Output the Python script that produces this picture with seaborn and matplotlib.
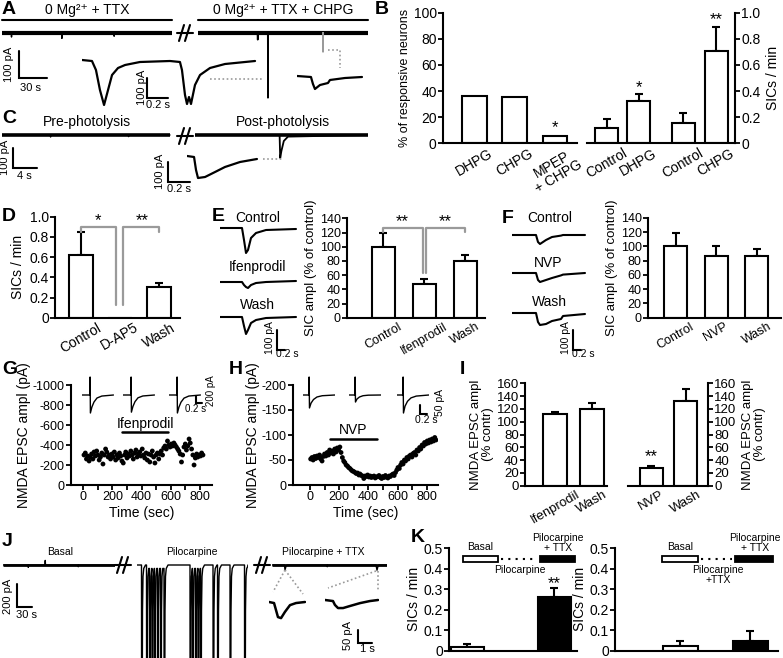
import matplotlib.pyplot as plt
import seaborn as sns
from matplotlib.patches import Rectangle

# ---------------- values ----------------
# B: % of responsive neurons and SIC frequency
b_pct_names = ["DHPG", "CHPG", "MPEP\n+ CHPG"]
b_pct = [36.5, 35.2, 5.8]
b_sic_names = ["Control", "DHPG", "Control", "CHPG"]
b_sic = [0.115, 0.324, 0.153, 0.71]
b_sic_err = [0.069, 0.051, 0.077, 0.183]
# D
d_names = ["Control", "D-AP5", "Wash"]
d_sic = [0.62, 0.0, 0.307]
d_err = [0.23, 0.0, 0.035]
# E
e_names = ["Control", "Ifenprodil", "Wash"]
e_amp = [100, 47.5, 80.3]
e_err = [19, 7, 8]
# F
f_names = ["Control", "NVP", "Wash"]
f_amp = [101, 87, 87]
f_err = [18, 13, 9]
# I
i_ifen_names = ["Ifenprodil", "Wash"]
i_ifen = [111.6, 119.8]
i_ifen_err = [4, 10]
i_nvp_names = ["NVP", "Wash"]
i_nvp = [27, 132]
i_nvp_err = [4, 19]
# K
k_pilo = [0.017, 0.26]
k_pilo_err = [0.016, 0.044]
k_ttx = [0.021, 0.049]
k_ttx_err = [0.028, 0.048]

# G: NMDA EPSC amplitude over time (ifenprodil 265-581 s)
g_time = [5, 14, 22, 31, 40, 48, 57, 66, 74, 83, 92, 100, 109, 118, 127, 135, 144, 153, 161, 170,
          179, 187, 196, 205, 213, 222, 231, 239, 248, 257, 265, 274, 283, 291, 300, 309, 317, 326,
          335, 343, 352, 361, 369, 378, 387, 395, 404, 413, 421, 430, 439, 447, 456, 465, 473, 482,
          491, 499, 508, 517, 525, 534, 543, 551, 560, 569, 577, 586, 595, 603, 612, 621, 629, 638,
          647, 655, 664, 673, 681, 690, 699, 707, 716, 725, 733, 742, 751, 759, 768, 777, 785, 794,
          803, 811, 820]
g_amp = [-300, -320, -260, -290, -240, -280, -310, -260, -330, -290, -340, -300, -250, -280, -320,
         -210, -300, -360, -330, -280, -300, -260, -310, -280, -330, -250, -300, -270, -320, -290,
         -240, -220, -300, -330, -270, -310, -290, -340, -300, -260, -320, -350, -280, -310, -330,
         -290, -360, -300, -270, -320, -250, -310, -230, -300, -340, -280, -220, -300, -320, -260,
         -310, -340, -300, -370, -390, -360, -440, -400, -380, -410, -390, -420, -400, -380, -360,
         -340, -310, -230, -300, -380, -410, -350, -390, -460, -420, -360, -300, -200, -270, -310,
         -280, -300, -290, -320, -300]
g_drug = [265, 581]
# H: NMDA EPSC amplitude over time (NVP 137-457 s)
h_time = [5, 14, 22, 31, 40, 48, 57, 66, 74, 83, 92, 100, 109, 118, 127, 135, 144, 153, 161, 170,
          179, 187, 196, 205, 213, 222, 231, 239, 248, 257, 265, 274, 283, 291, 300, 309, 317, 326,
          335, 343, 352, 361, 369, 378, 387, 395, 404, 413, 421, 430, 439, 447, 456, 465, 473, 482,
          491, 499, 508, 517, 525, 534, 543, 551, 560, 569, 577, 586, 595, 603, 612, 621, 629, 638,
          647, 655, 664, 673, 681, 690, 699, 707, 716, 725, 733, 742, 751, 759, 768, 777, 785, 794,
          803, 811, 820, 829, 837, 846, 855, 863]
h_amp = [-52, -55, -50, -57, -53, -58, -55, -60, -52, -48, -57, -62, -58, -65, -60, -70, -64, -68,
         -62, -72, -66, -74, -70, -76, -65, -55, -48, -45, -40, -38, -35, -33, -30, -28, -27, -25,
         -23, -24, -20, -22, -19, -18, -13, -18, -17, -20, -16, -18, -15, -17, -18, -14, -16, -17,
         -19, -15, -13, -17, -15, -19, -16, -14, -18, -17, -20, -22, -19, -25, -30, -35, -33, -40,
         -45, -42, -50, -48, -55, -52, -58, -60, -56, -63, -65, -60, -70, -68, -75, -72, -80, -78,
         -85, -82, -88, -84, -90, -86, -92, -88, -95, -90]
h_drug = [137, 457]

# ---- current traces (time in s, current in pA) ----
a_ttx_t = [0, 10, 10.2, 10.4, 64, 64.2, 64.4, 120, 120.2, 120.4, 182]
a_ttx_i = [0, 0, -15, 0, 0, -20, 0, 0, -12, 0, 0]
a_chpg_t = [0, 63.7, 64, 64.3, 74.8, 75, 75.2, 182]
a_chpg_i = [0, 0, -25, 0, 0, -240, 0, 0]
a_gray_t = [133.8, 134, 134.2]
a_gray_i = [0, -70, 0]
a_ins1_t = [0, 0.095, 0.133, 0.171, 0.21, 0.248, 0.286, 0.343, 0.41, 0.552, 0.838, 0.933, 0.952,
            0.981, 1.0, 1.019, 1.038, 1.076, 1.124, 1.219, 1.362, 1.648]
a_ins1_i = [0, -5, -50, -150, -225, -150, -75, -40, -25, -10, -5, -10, -50, -175, -220, -185, -220,
            -125, -75, -40, -20, -5]
a_ins2_t = [0, 0.133, 0.152, 0.171, 0.219, 0.295, 0.314, 0.457, 0.619]
a_ins2_i = [0, -5, -40, -65, -45, -35, -20, -10, -5]

c_pre_t = [0, 8, 8.1, 8.2, 21, 21.1, 21.2, 28]
c_pre_i = [0, 0, -10, 0, 0, -8, 0, 0]
c_post_t = [0, 14.1, 14.2, 14.4, 14.8, 15.5, 28.8]
c_post_i = [0, 0, -115, -80, -30, -8, 0]
c_ins_t = [0, 0.064, 0.082, 0.1, 0.164, 0.255, 0.345, 0.482, 0.636]
c_ins_i = [0, -5, -70, -110, -105, -80, -55, -30, -15]

e_tr_t = [0, 0.55, 0.6, 0.65, 0.7, 0.775, 0.9, 1.15, 1.9]
e_ctrl_i = [0, 0, -60, -125, -110, -50, -25, -10, -5]
e_ifen_i = [0, 0, -15, -25, -30, -15, -5, 0, 5]
e_wash_i = [0, 0, -45, -85, -65, -30, -15, -5, 0]
f_tr_t = [0, 0.6, 0.65, 0.7, 0.85, 1.0, 1.225, 1.275, 1.825]
f_ctrl_i = [0, 0, -35, -45, -25, -10, -3, 0, 0]
f_nvp_i = [0, 0, -35, -45, -35, -25, -12, -8, 0]
f_wash_i = [0, 0, -45, -60, -55, -40, -30, -15, -5]

g_ep_t = [0, 0.26, 0.27, 0.28, 0.33, 0.4, 0.5, 0.66, 1.05]
g_ep1 = [0, 0, 514, -514, -343, -200, -86, -30, 0]
g_ep2 = [0, 0, 514, -490, -330, -190, -80, -28, 0]
g_ep3 = [0, 0, 514, -514, -350, -205, -90, -30, 0]
h_ep_t = [0, 0.17, 0.175, 0.185, 0.23, 0.3, 0.4, 0.55, 0.91]
h_ep1 = [0, 0, 100, -72, -45, -25, -11, -4, 0]
h_ep2 = [0, 0, 100, -39, -22, -11, -4, -1, 0]
h_ep3 = [0, 0, 100, -100, -62, -35, -16, -6, 0]

j_basal_t = [0, 50, 50.5, 51, 84, 84.5, 85, 150, 150.5, 151, 224]
j_basal_i = [0, 0, -20, 0, 0, 40, 0, 0, -15, 0, 0]
j_event_times = [9, 19, 25, 30, 35, 41, 47, 54, 106, 111, 117, 122, 127, 152, 161, 186, 215]
j_event_dt = [0.3, 1.2, 2.0, 3.0, 4.5, 8.0]
j_event_i = [-1800, -1800, -400, -100, -30, 0]
j_ttx_t = [0, 25, 26, 28, 30, 110, 110.5, 111, 208, 210, 212, 214, 230]
j_ttx_i = [0, 0, -45, -10, 0, 0, -15, 0, 0, -45, -10, 0, 0]
j_ins1_t = [0, 0.36, 0.5, 0.64, 0.86, 1.14, 1.5, 1.93, 2.57]
j_ins1_i = [0, -4, -31, -58, -62, -38, -12, -4, 0]
j_ins2_t = [0, 0.57, 0.71, 0.93, 1.29, 1.79, 2.5, 3.21, 3.79]
j_ins2_i = [0, -4, -19, -31, -31, -23, -12, -4, 0]

# ---------------- figure set-up ----------------
sns.set_style("ticks", {"axes.edgecolor": "black", "xtick.color": "black", "ytick.color": "black",
                        "text.color": "black", "axes.labelcolor": "black"})
plt.rcParams["font.family"] = ["Liberation Sans", "DejaVu Sans"]
plt.rcParams["axes.unicode_minus"] = False
plt.rcParams["axes.linewidth"] = 1.5
plt.rcParams["xtick.major.width"] = 1.3
plt.rcParams["ytick.major.width"] = 1.3
plt.rcParams["xtick.major.size"] = 3.5
plt.rcParams["ytick.major.size"] = 3.5

W, H = 783, 658
fig = plt.figure(figsize=(W / 100, H / 100), dpi=100)
GRAY = "#9a9a9a"


def px_axes(x0, y0, x1, y1):
    return fig.add_axes([x0 / W, 1 - y1 / H, (x1 - x0) / W, (y1 - y0) / H])


def trace_axes(x0, y0, left, right, up, down, sx, sy):
    # (x0, y0) is the pixel where time 0 / current 0 sits
    ax = px_axes(x0 - left, y0 - up, x0 + right, y0 + down)
    ax.set_xlim(-left / sx, right / sx)
    ax.set_ylim(-down / sy, up / sy)
    ax.axis("off")
    return ax


def trace(x0, y0, right, up, down, sx, sy, t, i, lw=1.0, band=0, color="black"):
    ax = trace_axes(x0, y0, 0, right, up, down, sx, sy)
    if band:
        # noisy baseline drawn as a thick band
        ax.plot([t[0], t[-1]], [0, 0], color=color, lw=band, solid_capstyle="butt")
    ax.plot(t, i, color=color, lw=lw, solid_joinstyle="round")
    return ax


def scale_bar(x0, y0, sx, sy, dt, di):
    ax = trace_axes(x0, y0, 2, dt * sx + 2, di * sy + 2, 2, sx, sy)
    ax.plot([0, 0, dt], [di, 0, 0], color="black", lw=1.5, solid_joinstyle="miter")


def bar_panel(box, pos, vals, errs, names, width, xlim, ylim, yticks, fills=None,
              right=False, fs=9, rot=30, lw=1.5):
    ax = px_axes(*box)
    sns.barplot(x=pos, y=vals, native_scale=True, width=width, color="white",
                edgecolor="black", linewidth=lw, saturation=1, errorbar=None, ax=ax)
    if fills is not None:
        for p, c in zip(ax.patches, fills):
            p.set_facecolor(c)
    sel = [k for k, e in enumerate(errs) if e > 0]
    ax.errorbar([pos[k] for k in sel], [vals[k] for k in sel],
                yerr=[[0] * len(sel), [errs[k] for k in sel]], fmt="none",
                ecolor="black", elinewidth=lw, capsize=3, capthick=lw, zorder=0.5)
    ax.set_xlim(*xlim)
    ax.set_ylim(*ylim)
    ax.set_yticks(yticks)
    if names is None:
        ax.set_xticks([])
    else:
        ax.set_xticks(pos)
        ax.set_xticklabels(names, rotation=rot, fontsize=fs, linespacing=0.9)
    ax.tick_params(axis="x", length=0, pad=2)
    ax.tick_params(axis="y", labelsize=fs, pad=1)
    ax.set_xlabel("")
    ax.set_ylabel("")
    ax.spines["top"].set_visible(False)
    if right:
        ax.spines["left"].set_visible(False)
        ax.yaxis.tick_right()
        ax.yaxis.set_label_position("right")
    else:
        ax.spines["right"].set_visible(False)
    ax.patch.set_alpha(0)
    return ax


# ---------------- A ----------------
trace(2, 33, 170, 10, 10, 0.933, 0.27, a_ttx_t, a_ttx_i, lw=1.0, band=3.0)
ax = trace(198, 33, 170, 10, 70, 0.933, 0.27, a_chpg_t, a_chpg_i, lw=1.2, band=3.0)
ax.plot(a_gray_t, a_gray_i, color=GRAY, lw=1.2)
trace(82, 60, 178, 6, 50, 105, 0.2, a_ins1_t, a_ins1_i, lw=1.6)
trace(297, 76, 66, 6, 18, 105, 0.2, a_ins2_t, a_ins2_i, lw=1.6)
scale_bar(19, 78, 0.933, 0.27, 30, 100)
scale_bar(147, 98, 105, 0.2, 0.2, 100)

# ---------------- B ----------------
ax = bar_panel((443, 12.7, 577, 143.3), [0, 1, 2], b_pct, [0, 0, 0], b_pct_names, 0.62,
               (-0.783, 2.547), (0, 100), [0, 20, 40, 60, 80, 100], fs=10)
ax.set_ylabel("% of responsive neurons", fontsize=9, labelpad=2)
ax.text(2, 11.7, "*", ha="center", va="center", fontsize=12)
b_pos = [0, 0.985, 2.354, 3.369]
ax = bar_panel((587, 12.7, 735, 143.3), b_pos, b_sic, b_sic_err, b_sic_names, 0.72,
               (-0.6, 3.95), (0, 1), [0, 0.2, 0.4, 0.6, 0.8, 1.0], right=True, fs=10)
ax.set_yticklabels(["0", "0.2", "0.4", "0.6", "0.8", "1.0"])
ax.set_ylabel("SICs / min", fontsize=10, labelpad=4)
ax.text(b_pos[1], 0.43, "*", ha="center", va="center", fontsize=12)
ax.text(b_pos[3], 0.95, "**", ha="center", va="center", fontsize=12)

# ---------------- C ----------------
trace(2, 135, 170, 10, 10, 6, 0.2, c_pre_t, c_pre_i, lw=1.0, band=2.6)
trace(195, 135, 173, 10, 30, 6, 0.2, c_post_t, c_post_i, lw=1.3, band=2.6)
trace(187, 156, 72, 6, 26, 110, 0.2, c_ins_t, c_ins_i, lw=1.6)
scale_bar(13, 168, 6, 0.2, 4, 100)
scale_bar(168, 182, 110, 0.2, 0.2, 100)

# ---------------- D ----------------
ax = bar_panel((55, 216.7, 180, 317.7), [0, 1, 2], d_sic, d_err, d_names, 0.6,
               (-0.667, 2.54), (0, 1), [0, 0.2, 0.4, 0.6, 0.8, 1.0], fs=10)
ax.set_yticklabels(["0", "0.2", "0.4", "0.6", "0.8", "1.0"])
ax.set_ylabel("SICs / min", fontsize=10, labelpad=3)
ax.plot([0, 0, 0.9, 0.9], [0.85, 0.895, 0.895, 0.13], color=GRAY, lw=1.6, clip_on=False)
ax.plot([1.07, 1.07, 2, 2], [0.13, 0.895, 0.895, 0.85], color=GRAY, lw=1.6, clip_on=False)
ax.text(0.44, 0.96, "*", ha="center", va="center", fontsize=12)
ax.text(1.56, 0.96, "**", ha="center", va="center", fontsize=12)

# ---------------- E ----------------
trace(220, 228, 77, 6, 28, 40, 0.2, e_tr_t, e_ctrl_i, lw=1.5)
trace(220, 282, 77, 6, 10, 40, 0.2, e_tr_t, e_ifen_i, lw=1.5)
trace(220, 317, 77, 6, 20, 40, 0.2, e_tr_t, e_wash_i, lw=1.5)
scale_bar(277, 350, 40, 0.2, 0.2, 100)
ax = bar_panel((347, 218.3, 485, 317.7), [0, 1, 2], e_amp, e_err, e_names, 0.57,
               (-0.89, 2.48), (0, 140), list(range(0, 141, 20)), fs=9)
ax.set_ylabel("SIC ampl (% of control)", fontsize=9.5, labelpad=2)
ax.plot([0, 0, 0.956, 0.956], [121, 127, 127, 62.5], color=GRAY, lw=1.6, clip_on=False)
ax.plot([1.03, 1.03, 2, 2], [62.5, 127, 127, 121], color=GRAY, lw=1.6, clip_on=False)
ax.text(0.45, 136, "**", ha="center", va="center", fontsize=12, clip_on=False)
ax.text(1.52, 136, "**", ha="center", va="center", fontsize=12, clip_on=False)

# ---------------- F ----------------
trace(512, 235, 74, 6, 14, 40, 0.2, f_tr_t, f_ctrl_i, lw=1.5)
trace(512, 273, 74, 6, 14, 40, 0.2, f_tr_t, f_nvp_i, lw=1.5)
trace(512, 313, 74, 6, 16, 40, 0.2, f_tr_t, f_wash_i, lw=1.5)
scale_bar(573, 350, 40, 0.2, 0.2, 100)
ax = bar_panel((648, 218, 781, 317.7), [0, 1, 2], f_amp, f_err, f_names, 0.57,
               (-0.68, 2.6), (0, 140), list(range(0, 141, 20)), fs=9)
ax.set_ylabel("SIC ampl (% of control)", fontsize=9.5, labelpad=2)

# ---------------- G ----------------
for x0, ep in zip([82, 123, 169], [g_ep1, g_ep2, g_ep3]):
    trace(x0, 395, 32, 20, 20, 30, 0.035, g_ep_t, ep, lw=1.0)
scale_bar(196, 403, 30, 0.035, 0.2, 200)
ax = px_axes(71, 385, 212, 485)
sns.scatterplot(x=g_time, y=g_amp, color="black", s=12, edgecolor="none", ax=ax, legend=False)
ax.plot(g_drug, [-530, -530], color="black", lw=1.8)
ax.text(sum(g_drug) / 2, -610, "Ifenprodil", ha="center", va="center", fontsize=10)
ax.set_xlim(-84, 882)
ax.set_ylim(0, -1000)
ax.set_yticks([0, -200, -400, -600, -800, -1000])
ax.set_xticks(range(0, 900, 100))
ax.set_xticklabels(["0", "", "200", "", "400", "", "600", "", "800"])
ax.tick_params(labelsize=9, pad=1)
ax.set_xlabel("Time (sec)", fontsize=10, labelpad=2)
ax.set_ylabel("NMDA EPSC ampl (pA)", fontsize=10, labelpad=1)
sns.despine(ax=ax)
ax.patch.set_alpha(0)

# ---------------- H ----------------
for x0, ep in zip([303, 349, 397], [h_ep1, h_ep2, h_ep3]):
    trace(x0, 395, 32, 20, 20, 35, 0.18, h_ep_t, ep, lw=1.0)
scale_bar(420, 414, 35, 0.18, 0.2, 50)
ax = px_axes(293, 385, 438, 485)
sns.scatterplot(x=h_time, y=h_amp, color="black", s=12, edgecolor="none", ax=ax, legend=False)
ax.plot(h_drug, [-92, -92], color="black", lw=1.8)
ax.text(sum(h_drug) / 2, -110, "NVP", ha="center", va="center", fontsize=10)
ax.set_xlim(-116, 877)
ax.set_ylim(0, -200)
ax.set_yticks([0, -50, -100, -150, -200])
ax.set_xticks(range(0, 900, 100))
ax.set_xticklabels(["0", "", "200", "", "400", "", "600", "", "800"])
ax.tick_params(labelsize=9, pad=1)
ax.set_xlabel("Time (sec)", fontsize=10, labelpad=2)
ax.set_ylabel("NMDA EPSC ampl (pA)", fontsize=10, labelpad=1)
sns.despine(ax=ax)
ax.patch.set_alpha(0)

# ---------------- I ----------------
ax = bar_panel((525, 383.3, 607, 485.7), [0, 1], i_ifen, i_ifen_err, i_ifen_names, 0.65,
               (-0.81, 1.41), (0, 160), list(range(0, 161, 20)), fs=9.5)
ax.set_ylabel("NMDA EPSC ampl\n(% contr)", fontsize=9.5, labelpad=2, linespacing=1.0)
ax = bar_panel((628, 383.3, 708, 485.7), [0, 1], i_nvp, i_nvp_err, i_nvp_names, 0.68,
               (-0.69, 1.66), (0, 160), list(range(0, 161, 20)), right=True, fs=9.5)
ax.set_ylabel("NMDA EPSC ampl\n(% contr)", fontsize=9.5, labelpad=4, linespacing=1.0)
ax.text(0, 45, "**", ha="center", va="center", fontsize=12)

# ---------------- J ----------------
j_pilo_t, j_pilo_i = [0], [0]
for k, t0 in enumerate(j_event_times):
    t_next = j_event_times[k + 1] if k + 1 < len(j_event_times) else 1e9
    j_pilo_t.append(t0)
    j_pilo_i.append(j_pilo_i[-1])
    for dt, cur in zip(j_event_dt, j_event_i):
        if t0 + dt < t_next:
            j_pilo_t.append(t0 + dt)
            j_pilo_i.append(cur)
j_pilo_t.append(222)
j_pilo_i.append(0)
trace(3, 565, 112, 8, 8, 0.5, 0.115, j_basal_t, j_basal_i, lw=1.0, band=2.0)
trace(137, 565, 111, 8, 93, 0.5, 0.115, j_pilo_t, j_pilo_i, lw=1.0, band=0)
trace(272, 565, 115, 8, 10, 0.5, 0.115, j_ttx_t, j_ttx_i, lw=1.0, band=2.0)
trace(269, 602, 37, 5, 20, 14, 0.26, j_ins1_t, j_ins1_i, lw=1.8)
trace(325, 600, 54, 5, 12, 14, 0.26, j_ins2_t, j_ins2_i, lw=1.8)
scale_bar(17, 607, 0.5, 0.115, 30, 200)
scale_bar(358, 643, 14, 0.26, 1, 50)

# ---------------- K ----------------
ax = bar_panel((449, 548, 577, 650.7), [0, 1], k_pilo, k_pilo_err, None, 0.38,
               (-0.21, 1.26), (0, 0.5), [0, 0.1, 0.2, 0.3, 0.4, 0.5],
               fills=["white", "black"], fs=10)
ax.set_yticklabels(["0", "0.1", "0.2", "0.3", "0.4", "0.5"])
ax.set_ylabel("SICs / min", fontsize=10, labelpad=2)
ax.text(1, 0.325, "**", ha="center", va="center", fontsize=12)
ax = bar_panel((615, 548, 778, 650.7), [0, 1], k_ttx, k_ttx_err, None, 0.5,
               (-0.93, 1.4), (0, 0.5), [0, 0.1, 0.2, 0.3, 0.4, 0.5],
               fills=["white", "black"], fs=10)
ax.set_yticklabels(["0", "0.1", "0.2", "0.3", "0.4", "0.5"])
ax.set_ylabel("SICs / min", fontsize=10, labelpad=2)

# ---------------- overlay: letters, titles, breaks, connectors ----------------
ov = fig.add_axes([0, 0, 1, 1])
ov.set_xlim(0, W)
ov.set_ylim(H, 0)
ov.axis("off")
ov.set_zorder(10)

for letter, x, y in [("A", 2, 1), ("B", 375, 1), ("C", 2, 110), ("D", 2, 208), ("E", 212, 208),
                     ("F", 502, 210), ("G", 2, 361), ("H", 229, 361), ("I", 460, 361),
                     ("J", 2, 533), ("K", 411, 529)]:
    ov.text(x, y, letter, ha="left", va="top", fontsize=14, fontweight="bold")


def txt(x, y, s, fs=10, rot=0, **kw):
    ov.text(x, y, s, ha="center", va="center", fontsize=fs, rotation=rot, **kw)


txt(87, 10, "0 Mg²⁺ + TTX")
txt(283, 10, "0 Mg²⁺ + TTX + CHPG")
ov.plot([2, 172], [20, 20], color="black", lw=1.5)
ov.plot([198, 368], [20, 20], color="black", lw=1.5)
txt(87, 122, "Pre-photolysis")
txt(283, 122, "Post-photolysis")

txt(258, 218, "Control", 10)
txt(257, 267, "Ifenprodil", 10)
txt(257, 305, "Wash", 10)
txt(550, 218, "Control", 10)
txt(548, 263, "NVP", 10)
txt(549, 302, "Wash", 10)

txt(60, 552, "Basal", 7.5)
txt(192, 552, "Pilocarpine", 7.5)
txt(323, 552, "Pilocarpine + TTX", 7.5)

# scale bar labels
txt(9, 64, "100 pA", 8, 90)
txt(31, 88, "30 s", 8)
txt(142, 87, "100 pA", 8, 90)
txt(158, 105, "0.2 s", 8)
txt(5, 157, "100 pA", 8, 90)
txt(24, 176, "4 s", 8)
txt(160, 171, "100 pA", 8, 90)
txt(179, 189, "0.2 s", 8)
txt(270, 338, "100 pA", 7.5, 90)
txt(287, 354, "0.2 s", 7.5)
txt(566, 338, "100 pA", 7.5, 90)
txt(583, 354, "0.2 s", 7.5)
txt(211, 391, "200 pA", 7, 90)
txt(196, 409, "0.2 s", 7)
txt(440, 402, "50 pA", 7.5, 90)
txt(426, 420, "0.2 s", 7.5)
txt(8, 596, "200 pA", 8, 90)
txt(27, 615, "30 s", 8)
txt(348, 636, "50 pA", 8, 90)
txt(367, 649, "1 s", 8)


def brk(x, y, h=8):
    ov.plot([x - 8, x + 8], [y, y], color="black", lw=1.5)
    ov.plot([x - 6, x - 1], [y + h, y - h], color="black", lw=1.5)
    ov.plot([x, x + 5], [y + h, y - h], color="black", lw=1.5)


brk(185, 33)
brk(185, 136)
brk(123, 565)
brk(262, 565)

dots = dict(color=GRAY, lw=1.2, linestyle=(0, (1, 1.5)))
ov.plot([210, 263], [79, 79], **dots)
ov.plot([328, 340, 340], [50, 50, 68], **dots)
ov.plot([263, 283], [159, 159], **dots)
ov.plot([285, 273], [570, 592], **dots)
ov.plot([285, 303], [570, 594], **dots)
ov.plot([376, 328], [571, 588], **dots)
ov.plot([378, 378], [571, 590], **dots)

# K legend glyphs and labels
for (x0, x1, x2, x3) in [(463, 498, 540, 575), (662, 698, 735, 773)]:
    ov.add_patch(Rectangle((x0, 556), x1 - x0, 6, facecolor="white", edgecolor="black", lw=1.3))
    ov.add_patch(Rectangle((x2, 556), x3 - x2, 6, facecolor="black", edgecolor="black", lw=1.3))
    ov.plot([x1 + 3, x2 - 3], [559, 559], color="black", lw=1.5, linestyle=(0, (1, 2.5)))
txt(480, 547, "Basal", 7.5)
txt(558, 543, "Pilocarpine\n+ TTX", 7.5, linespacing=1.0)
txt(520, 570, "Pilocarpine", 7.5)
txt(680, 547, "Basal", 7.5)
txt(755, 543, "Pilocarpine\n+ TTX", 7.5, linespacing=1.0)
txt(718, 575, "Pilocarpine\n+TTX", 7.5, linespacing=1.0)

fig.savefig("out.png", dpi=100)
